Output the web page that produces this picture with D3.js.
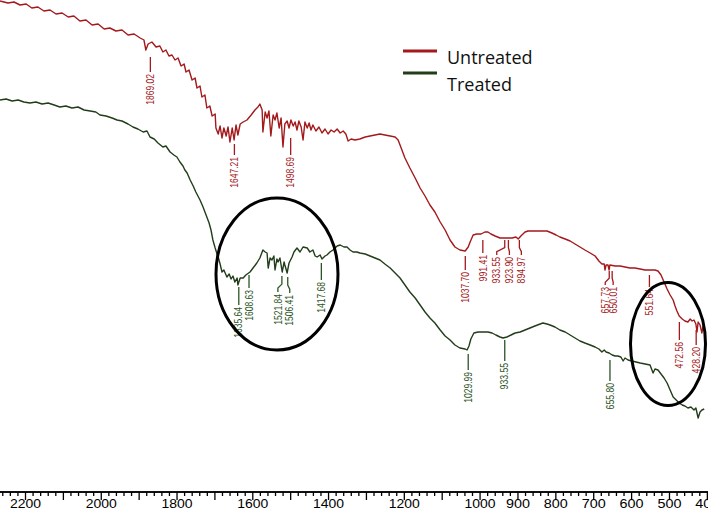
<!DOCTYPE html>
<html>
<head>
<meta charset="utf-8">
<script src="https://cdn.jsdelivr.net/npm/d3@7"></script>
<style>
  html, body { margin: 0; padding: 0; background: #fff; }
  svg { display: block; }
</style>
</head>
<body>
<svg id="chart" width="708" height="515"></svg>
<script>
// ---------------- DATA ----------------
// Untreated spectrum: [wavenumber (cm-1), transmittance (a.u.)]
const untreated = [
[2266,99.8],[2245,99.4],[2229,99.6],[2213,99.0],[2197,99.2],[2182,98.4],[2166,98.6],[2150,97.8],[2134,98.0],[2118,97.2],
[2102,97.4],[2086,96.6],[2071,96.8],[2055,95.8],[2039,96.0],[2023,95.0],[2007,95.2],[1991,94.2],[1976,94.4],[1960,93.8],
[1944,94.0],[1928,93.0],[1912,93.2],[1896,92.4],[1886,92.0],[1881,90.0],[1875,91.2],[1865,91.6],[1854,90.6],[1844,90.8],
[1836,89.6],[1828,90.0],[1820,88.8],[1812,89.0],[1804,88.0],[1796,88.4],[1788,86.8],[1780,87.2],[1775,85.6],[1767,86.0],
[1759,84.0],[1751,84.4],[1746,82.4],[1738,82.8],[1733,80.6],[1725,81.0],[1720,78.4],[1712,78.8],[1706,76.8],[1698,77.2],
[1696,74.4],[1690,73.2],[1685,74.8],[1680,72.4],[1675,74.4],[1669,72.8],[1664,74.6],[1659,71.6],[1653,74.4],[1648,72.0],
[1643,75.0],[1638,73.0],[1632,75.2],[1624,75.6],[1614,76.0],[1603,77.0],[1593,78.0],[1585,78.6],[1580,79.2],[1574,78.0],
[1572,73.6],[1566,77.6],[1561,76.4],[1556,77.8],[1551,72.8],[1545,77.0],[1540,76.0],[1535,77.4],[1529,74.4],[1524,76.4],
[1519,70.6],[1514,75.2],[1508,75.8],[1503,74.4],[1498,76.0],[1492,74.8],[1487,75.6],[1482,74.0],[1477,75.8],[1471,74.6],
[1466,72.0],[1461,75.6],[1455,74.4],[1450,75.4],[1445,74.0],[1440,75.0],[1432,73.8],[1424,74.6],[1416,73.4],[1408,74.2],
[1400,73.2],[1392,74.0],[1384,73.6],[1376,74.2],[1368,73.4],[1360,73.8],[1353,73.2],[1347,71.8],[1339,72.2],[1329,72.0],
[1316,72.2],[1302,72.6],[1289,72.8],[1276,73.0],[1263,73.2],[1250,73.0],[1236,72.8],[1223,72.6],[1215,72.0],[1207,70.4],
[1197,68.4],[1184,66.4],[1170,64.4],[1157,62.4],[1144,60.8],[1131,59.0],[1118,57.6],[1104,55.6],[1091,54.0],[1078,52.0],
[1065,50.6],[1052,50.0],[1038,49.8],[1030,50.6],[1025,51.6],[1017,53.0],[1007,53.2],[996,53.2],[986,53.6],[978,53.6],
[970,53.2],[959,52.8],[946,52.4],[935,52.4],[925,52.4],[914,52.4],[904,52.6],[898,52.2],[891,52.8],[880,53.6],
[872,53.8],[854,53.8],[835,53.8],[822,53.8],[809,53.4],[798,53.0],[788,52.6],[774,52.2],[761,51.8],[748,51.2],
[735,50.6],[722,50.0],[708,49.4],[695,48.8],[685,47.8],[677,47.2],[671,47.2],[669,46.0],[666,47.0],[661,47.0],
[658,46.0],[656,47.0],[642,46.8],[629,46.8],[616,46.6],[603,46.4],[590,46.4],[576,46.2],[563,46.0],[550,46.0],
[537,46.0],[529,45.8],[521,45.0],[513,43.6],[505,42.2],[497,41.0],[489,40.0],[484,38.8],[479,37.8],[473,36.8],
[465,36.2],[458,35.8],[450,35.6],[444,36.2],[439,35.8],[434,36.0],[429,35.2],[426,33.6],[423,35.6],[418,35.0],
[413,33.4],[410,34.8]
];

// Treated spectrum: [wavenumber (cm-1), transmittance (a.u.)]
const treated = [
[2266,80.0],[2250,80.2],[2234,79.8],[2218,80.0],[2203,79.6],[2187,79.4],[2171,79.6],[2155,79.2],[2139,79.4],[2123,79.0],
[2108,78.6],[2092,78.8],[2076,78.4],[2060,78.6],[2044,78.0],[2028,77.8],[2013,77.6],[2002,77.0],[1986,76.8],[1970,76.4],
[1957,76.0],[1944,75.8],[1928,75.2],[1915,74.6],[1902,74.2],[1888,73.6],[1878,73.8],[1870,72.6],[1859,72.2],[1849,71.4],
[1836,70.6],[1828,70.8],[1817,69.6],[1807,69.0],[1799,68.6],[1791,67.6],[1783,66.8],[1778,66.0],[1772,65.4],[1764,64.0],
[1756,62.8],[1749,61.6],[1738,60.0],[1730,58.6],[1725,57.6],[1720,56.6],[1714,55.4],[1709,54.0],[1704,52.0],[1698,50.4],
[1693,49.2],[1690,48.6],[1685,47.2],[1680,45.6],[1675,46.0],[1667,44.6],[1661,45.2],[1656,44.2],[1651,44.8],[1646,43.6],
[1640,44.4],[1638,43.0],[1632,44.4],[1624,44.4],[1617,45.0],[1606,45.6],[1598,46.4],[1588,47.4],[1580,48.4],[1572,50.0],
[1566,49.6],[1561,49.4],[1558,46.4],[1553,48.4],[1548,48.0],[1543,48.8],[1540,46.0],[1535,48.2],[1532,47.6],[1527,48.4],
[1521,45.6],[1516,47.6],[1514,47.0],[1508,45.4],[1503,47.4],[1495,48.6],[1490,49.6],[1482,50.4],[1474,49.6],[1466,50.6],
[1455,50.4],[1448,49.6],[1440,50.0],[1434,48.8],[1429,48.6],[1421,49.0],[1416,48.2],[1408,48.8],[1403,49.0],[1395,49.6],
[1387,50.0],[1376,50.8],[1368,51.0],[1358,50.6],[1350,50.6],[1342,50.0],[1334,49.6],[1324,49.6],[1316,49.4],[1302,49.2],
[1289,48.8],[1276,48.4],[1263,48.0],[1250,47.2],[1236,46.4],[1223,45.4],[1210,44.4],[1197,43.0],[1184,41.6],[1170,40.4],
[1157,39.0],[1144,37.6],[1131,36.4],[1118,35.4],[1104,34.0],[1091,32.8],[1078,32.0],[1065,31.0],[1052,30.4],[1038,30.2],
[1033,30.0],[1028,30.8],[1023,32.2],[1015,33.4],[1004,33.6],[991,33.6],[978,33.6],[967,33.4],[957,33.0],[946,32.6],
[938,32.4],[928,32.6],[917,33.0],[906,33.4],[893,33.6],[880,34.0],[867,34.4],[854,34.8],[840,35.2],[833,35.4],
[822,35.2],[814,35.0],[801,34.6],[788,34.0],[774,33.6],[761,33.0],[748,32.4],[735,31.8],[722,31.4],[708,31.0],
[695,30.6],[685,30.2],[677,29.6],[671,30.0],[666,29.6],[658,29.4],[650,29.0],[642,28.8],[635,28.8],[627,28.6],
[621,27.8],[616,28.4],[608,28.0],[598,27.8],[587,27.6],[576,27.4],[563,27.2],[550,27.0],[545,26.0],[542,25.4],
[537,26.2],[529,26.0],[521,25.2],[513,24.4],[505,23.4],[497,22.0],[489,20.6],[481,20.0],[473,19.4],[465,19.0],
[458,18.8],[450,18.4],[442,18.6],[434,18.0],[429,18.4],[423,16.4],[418,17.6],[413,18.0],[407,18.2]
];

const seriesNames = ["Untreated", "Treated"];
const untreatedPeaks = [1869.02, 1647.21, 1498.69, 1037.70, 991.41, 933.55, 923.90, 894.97, 657.73, 650.01, 551.64, 472.56, 428.20];
const treatedPeaks = [1635.64, 1608.63, 1521.84, 1506.41, 1417.68, 1029.99, 933.55, 655.80];
const tickLabels = [2200, 2000, 1800, 1600, 1400, 1200, 1000, 900, 800, 700, 600, 500, 400];

// ---------------- LAYOUT (annotation placement, px) ----------------
// [lineTop, textTop, dx]
const untreatedPeakLayout = [
  [57, 74, 0], [144, 157, 0], [138, 157, 0], [256, 272, 0], [240, 255, 0],
  [240, 257, -8], [240, 257, 1], [240, 257, 2],
  [271, 287, -4], [271, 287, 1], [275, 289, 0], [322, 342, 0], [330, 347, 0]
];
const treatedPeakLayout = [
  [287, 307, 0], [275, 290, 0], [276, 294, -4], [277, 295, 2], [263, 282, 0],
  [354, 372, 0], [340, 363, 0], [360, 383, 0]
];

const RED = "#a3191c", GREEN = "#213d19", GREEN_LBL = "#2a5424";

// ---------------- CHART ----------------
const W = 708, H = 515;
const svg = d3.select("#chart");
const x = d3.scaleLinear().domain([2266, 397]).range([0, W]);
const y = d3.scaleLinear().domain([100, 0]).range([0, 500]);

const line = d3.line().x(d => x(d[0])).y(d => y(d[1]));

svg.append("path").datum(untreated).attr("d", line)
  .attr("fill", "none").attr("stroke", RED).attr("stroke-width", 1.4).attr("stroke-linejoin", "round");
svg.append("path").datum(treated).attr("d", line)
  .attr("fill", "none").attr("stroke", GREEN).attr("stroke-width", 1.4).attr("stroke-linejoin", "round");

// peak annotations
function drawPeaks(peaks, layout, color) {
  const g = svg.append("g");
  peaks.forEach((wn, i) => {
    const [top, textTop, dx] = layout[i];
    const px = x(wn);
    let d;
    if (dx === 0) {
      d = `M${px},${top}V${textTop - 2}`;
    } else {
      const mid = top + (textTop - top) * 0.45;
      d = `M${px},${top}V${mid}L${px + dx},${mid + 4}V${textTop - 2}`;
    }
    g.append("path").attr("d", d).attr("fill", "none").attr("stroke", color).attr("stroke-width", 1.3);
    const label = wn.toFixed(2);
    g.append("text")
      .attr("transform", `translate(${px + dx},${textTop}) rotate(-90)`)
      .attr("text-anchor", "end")
      .attr("dy", "0.35em")
      .attr("font-family", "'Liberation Sans', Arial, sans-serif")
      .attr("font-size", 10.5)
      .attr("textLength", label.length * 4.4)
      .attr("lengthAdjust", "spacingAndGlyphs")
      .attr("fill", color)
      .text(label);
  });
}
drawPeaks(untreatedPeaks, untreatedPeakLayout, RED);
drawPeaks(treatedPeaks, treatedPeakLayout, GREEN_LBL);

// highlight ellipses
svg.append("ellipse").attr("cx", 277).attr("cy", 274).attr("rx", 61).attr("ry", 76)
  .attr("fill", "none").attr("stroke", "#000").attr("stroke-width", 3);
svg.append("ellipse").attr("cx", 668).attr("cy", 344).attr("rx", 37.5).attr("ry", 61.5)
  .attr("fill", "none").attr("stroke", "#000").attr("stroke-width", 3);

// x axis
const axisY = 492;
const minorTicks = d3.range(2260, 399, -20).filter(v => v % 100 !== 0);
const majorTicks = d3.range(2200, 399, -100);

const gMinor = svg.append("g").attr("transform", `translate(0,${axisY})`)
  .call(d3.axisBottom(x).tickValues(minorTicks).tickSize(4).tickSizeOuter(0).tickFormat(""));
const gMajor = svg.append("g").attr("transform", `translate(0,${axisY})`)
  .call(d3.axisBottom(x).tickValues(majorTicks).tickSize(8).tickSizeOuter(0).tickPadding(-1)
    .tickFormat(v => tickLabels.includes(v) ? String(v) : ""));
[gMinor, gMajor].forEach(g => {
  g.select(".domain").attr("stroke", "#000").attr("stroke-width", 1.5).attr("d", `M0,0H${W}`);
  g.selectAll(".tick line").attr("stroke", "#000").attr("stroke-width", 1.3);
});
gMajor.selectAll(".tick text")
  .attr("font-family", "'Liberation Sans', Arial, sans-serif")
  .attr("font-size", 13)
  .attr("fill", "#000")
  .each(function(v) {
    const t = String(tickLabels.includes(v) ? v : "");
    if (t) d3.select(this).attr("textLength", t.length === 4 ? 31 : 24).attr("lengthAdjust", "spacingAndGlyphs");
  });

// legend
const legend = svg.append("g");
[[seriesNames[0], RED, 51, 64], [seriesNames[1], GREEN, 73, 91]].forEach(([name, color, ly, ty]) => {
  legend.append("line").attr("x1", 403).attr("x2", 437).attr("y1", ly).attr("y2", ly)
    .attr("stroke", color).attr("stroke-width", 3);
  legend.append("text").attr("x", 447).attr("y", ty)
    .attr("font-family", "'Open Sans', Lato, sans-serif").attr("font-size", 18)
    .attr("fill", "#111").text(name);
});
</script>
</body>
</html>
